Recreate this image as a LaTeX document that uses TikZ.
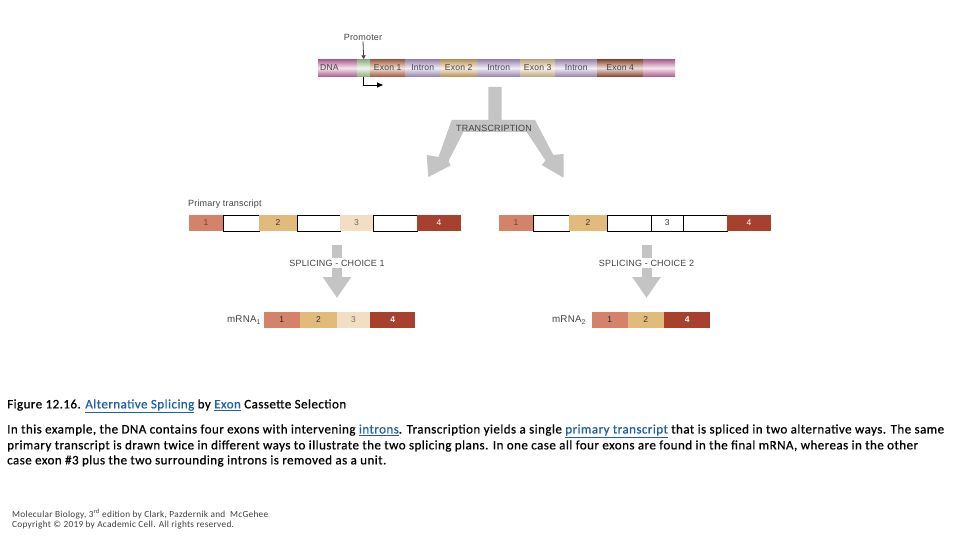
\documentclass[tikz,border=0pt]{standalone}
\usepackage{fontspec}
\setmainfont{Carlito}[LetterSpace=3.5,FakeBold=0.6]
\newfontfamily\footfont{Carlito}[LetterSpace=3]
\newfontfamily\arial{Liberation Sans}[LetterSpace=2]
\usetikzlibrary{arrows.meta}
\definecolor{dnapink}{HTML}{D47AB0}
\definecolor{promgreen}{HTML}{B4D6A4}
\definecolor{exA}{HTML}{C87452}
\definecolor{intr}{HTML}{BCA6D6}
\definecolor{exB}{HTML}{E6B674}
\definecolor{exC}{HTML}{EED0A0}
\definecolor{exD}{HTML}{A85A40}
\definecolor{tone}{HTML}{D4826A}
\definecolor{ttwo}{HTML}{E2BA7C}
\definecolor{tthree}{HTML}{F2DEC2}
\definecolor{tfour}{HTML}{A8402E}
\definecolor{arrgray}{HTML}{C4C4C4}
\definecolor{linkblue}{HTML}{1F5FA8}
\definecolor{lbl}{HTML}{444444}
\tikzset{
  dnaseg/.style={shape=rectangle, inner sep=0pt, minimum height=17pt, anchor=west,
    font=\arial\fontsize{8.6}{9}\selectfont, text=lbl,
    top color=#1!80!black, bottom color=#1!80!black, middle color=#1!20!white},
  tseg/.style={shape=rectangle, inner sep=0pt, minimum height=16pt, anchor=west,
    font=\arial\fontsize{8.5}{9}\selectfont, fill=#1},
  tbox/.style={shape=rectangle, inner sep=0pt, minimum height=16pt, anchor=west,
    font=\arial\fontsize{8.5}{9}\selectfont, fill=white, draw=black, line width=0.8pt},
  dlabel/.style={font=\arial\fontsize{9}{10}\selectfont, text=lbl, inner sep=1pt},
  splarrow/.style={draw=arrgray, line width=10pt, -{Triangle[width=27pt,length=21pt]}},
  caption/.style={anchor=west, inner sep=0pt, font=\fontsize{13}{15}\selectfont},
  foot/.style={anchor=west, inner sep=0pt, font=\footfont\fontsize{9.3}{10}\selectfont, text=black!75},
}
\newcommand{\lk}[1]{\textcolor{linkblue}{\underline{#1}}}
\begin{document}
\begin{tikzpicture}[x=1pt,y=-1pt]
\useasboundingbox (0,0) rectangle (960,540);
\fill[white] (0,0) rectangle (960,540);

% DNA bar
\node[dnaseg=dnapink, minimum width=39pt, text width=35pt, align=left] (dna) at (318,68) {DNA};
\node[dnaseg=promgreen, minimum width=13pt] (prom) at (357,68) {};
\node[dnaseg=exA, minimum width=35pt] (e1) at (370,68) {Exon 1};
\node[dnaseg=intr, minimum width=35pt] (i1) at (405,68) {Intron};
\node[dnaseg=exB, minimum width=37pt] (e2) at (440,68) {Exon 2};
\node[dnaseg=intr, minimum width=43pt] (i2) at (477,68) {Intron};
\node[dnaseg=exC, minimum width=35pt] (e3) at (520,68) {Exon 3};
\node[dnaseg=intr, minimum width=42pt] (i3) at (555,68) {Intron};
\node[dnaseg=exD, minimum width=46pt] (e4) at (597,68) {Exon 4};
\node[dnaseg=dnapink, minimum width=32pt] (dnaend) at (643,68) {};

% promoter
\node[dlabel] (promlbl) at (363,37) {Promoter};
\draw[lbl, line width=0.8pt, -{Triangle[width=4pt,length=4pt]}] (promlbl.south) -- (prom.north);
\coordinate (tss) at (383,85);
\draw[black, line width=0.9pt, -{Triangle[width=5pt,length=6pt]}] (prom.south) |- (tss);

% transcription arrow
\fill[arrgray] (488.3,87) -- (501.7,87) -- (501.7,120) -- (535,120)
  -- (553.3,155) -- (563.5,154) -- (563.5,177.7) -- (541.7,165) -- (545.5,160.5)
  -- (526.7,132) -- (463.3,132) -- (448.5,161) -- (450.5,165.5)
  -- (428.3,177) -- (426.7,155) -- (438.5,157) -- (451.7,120) -- (488.3,120) -- cycle;
\node[font=\arial\fontsize{9}{10}\selectfont, text=lbl, inner sep=0pt] (trlbl) at (494,128) {TRANSCRIPTION};

% primary transcript left
\node[dlabel, anchor=west, inner sep=0pt] (ptlbl) at (188,204) {Primary transcript};
\node[tseg=tone, minimum width=35pt, text=exD!70!black] (l1) at (188.3,223) {1};
\node[tbox, minimum width=35.7pt] (lw1) at (223.3,223) {};
\node[tseg=ttwo, minimum width=37.7pt, text=black!80] (l2) at (259,223) {2};
\node[tbox, minimum width=43.3pt] (lw2) at (296.7,223) {};
\node[tseg=tthree, minimum width=32.7pt, text=black!60] (l3) at (340,223) {3};
\node[tbox, minimum width=44pt] (lw3) at (372.7,223) {};
\node[tseg=tfour, minimum width=44.3pt, text=white] (l4) at (416.7,223) {4};

% primary transcript right
\node[tseg=tone, minimum width=35pt, text=exD!70!black] (r1) at (498.3,223) {1};
\node[tbox, minimum width=35.7pt] (rw1) at (533.3,223) {};
\node[tseg=ttwo, minimum width=37.7pt, text=black!80] (r2) at (569,223) {2};
\node[tbox, minimum width=44.3pt] (rw2) at (606.7,223) {};
\node[tbox, minimum width=31.7pt, text=black!80] (rw3) at (651,223) {3};
\node[tbox, minimum width=44pt] (rw4) at (682.7,223) {};
\node[tseg=tfour, minimum width=44.3pt, text=white] (r4) at (726.7,223) {4};

% splicing arrows
\coordinate (s1a) at (337,245);
\coordinate (s1b) at (337,298);
\draw[splarrow] (s1a) -- (s1b);
\node[font=\arial\fontsize{9}{10}\selectfont, text=lbl, fill=white, inner sep=1.5pt] (sp1) at (337,263) {SPLICING - CHOICE 1};
\coordinate (s2a) at (646.5,245);
\coordinate (s2b) at (646.5,298);
\draw[splarrow] (s2a) -- (s2b);
\node[font=\arial\fontsize{9}{10}\selectfont, text=lbl, fill=white, inner sep=1.5pt] (sp2) at (646.5,263) {SPLICING - CHOICE 2};

% mRNA1
\node[dlabel, font=\arial\fontsize{9.8}{10}\selectfont] (m1lbl) at (244,320) {mRNA\textsubscript{1}};
\node[tseg=tone, minimum width=36.7pt, text=black!85] (m11) at (263.3,320) {1};
\node[tseg=ttwo, minimum width=36.7pt, text=black!80] (m12) at (300,320) {2};
\node[tseg=tthree, minimum width=33.3pt, text=black!55] (m13) at (336.7,320) {3};
\node[tseg=tfour, minimum width=45pt, text=white, font=\arial\bfseries\fontsize{8.5}{9}\selectfont] (m14) at (370,320) {4};

% mRNA2
\node[dlabel, font=\arial\fontsize{9.8}{10}\selectfont] (m2lbl) at (569,320) {mRNA\textsubscript{2}};
\node[tseg=tone, minimum width=35.6pt, text=black!85] (m21) at (591.7,320) {1};
\node[tseg=ttwo, minimum width=36.7pt, text=black!80] (m22) at (627.3,320) {2};
\node[tseg=tfour, minimum width=46pt, text=white, font=\arial\bfseries\fontsize{8.5}{9}\selectfont] (m24) at (664,320) {4};

% caption
\node[caption] (cap0) at (7,406) {Figure 12.16. \lk{Alternative Splicing} by \lk{Exon} Cassette Selection};
\node[caption] (cap1) at (7,431) {In this example, the DNA contains four exons with intervening \lk{introns}. Transcription yields a single \lk{primary transcript} that is spliced in two alternative ways. The same};
\node[caption] (cap2) at (7,446) {primary transcript is drawn twice in different ways to illustrate the two splicing plans. In one case all four exons are found in the final mRNA, whereas in the other};
\node[caption] (cap3) at (7,461) {case exon \#3 plus the two surrounding introns is removed as a unit.};

% footer
\node[foot] (f1) at (12,514) {Molecular Biology, 3\textsuperscript{rd} edition by Clark, Pazdernik and\ \ McGehee};
\node[foot] (f2) at (12,525) {Copyright © 2019 by Academic Cell. All rights reserved.};
\end{tikzpicture}
\end{document}
